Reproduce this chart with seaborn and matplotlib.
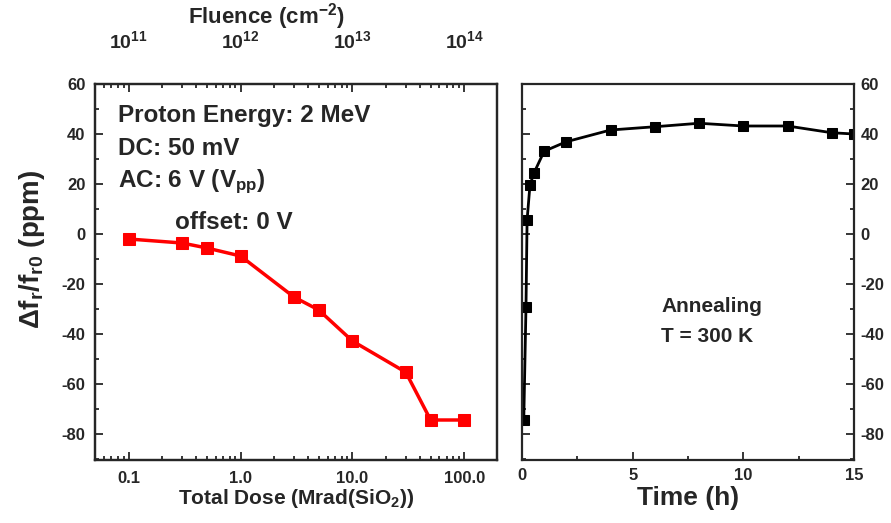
import numpy as np
import pandas as pd
import matplotlib
matplotlib.use("Agg")
import matplotlib.pyplot as plt
import seaborn as sns
from matplotlib.ticker import LogLocator, MultipleLocator, NullFormatter

# ---- data ----
dose = [0.1, 0.3, 0.5, 1.0, 3.0, 5.0, 10.0, 30.0, 50.0, 100.0]
dfr_dose = [-2.0, -3.6, -5.6, -8.8, -25.2, -30.4, -42.8, -55.3, -74.4, -74.4]

time_h = [0.08, 0.18, 0.23, 0.36, 0.54, 1.0, 2.0, 4.0, 6.0, 8.0, 10.0, 12.0, 14.0, 15.0]
dfr_time = [-74.4, -29.2, 5.6, 19.6, 24.4, 33.1, 36.9, 41.6, 42.9, 44.3, 43.2, 43.2, 40.5, 40.0]

dose_ticks = [0.1, 1.0, 10.0, 100.0]
dose_ticklabels = ["0.1", "1.0", "10.0", "100.0"]
fluence_ticklabels = ["10$^{11}$", "10$^{12}$", "10$^{13}$", "10$^{14}$"]
time_ticks = [0, 5, 10, 15]
y_ticks = [-80, -60, -40, -20, 0, 20, 40, 60]

sns.set_style("ticks")
plt.rcParams['font.family'] = ['Liberation Sans', 'DejaVu Sans']
plt.rcParams['font.weight'] = 'bold'
plt.rcParams['mathtext.fontset'] = 'custom'
for k in ['rm', 'it', 'bf', 'sf']:
    plt.rcParams['mathtext.' + k] = 'Liberation Sans:bold'
plt.rcParams['mathtext.default'] = 'rm'
plt.rcParams['axes.unicode_minus'] = False
plt.rcParams['axes.linewidth'] = 1.6

fig = plt.figure(figsize=(8.91, 5.23), dpi=100)
ax1 = fig.add_axes([95/891, 63/523, 402/891, 376/523])
ax2 = fig.add_axes([522/891, 63/523, 332/891, 376/523])

df1 = pd.DataFrame({"dose": dose, "dfr": dfr_dose})
df2 = pd.DataFrame({"t": time_h, "dfr": dfr_time})

sns.lineplot(data=df1, x="dose", y="dfr", ax=ax1, color="#ff0000", marker="s",
             markersize=8, markeredgecolor="#ff0000", linewidth=2.5, sort=False)
sns.lineplot(data=df2, x="t", y="dfr", ax=ax2, color="black", marker="s",
             markersize=7, markeredgecolor="black", linewidth=2, sort=False)

ylim = (-90.4, 60)
tick_kw = dict(direction='in', width=1.3)

# left panel
ax1.set_xscale('log')
ax1.set_xlim(0.05, 196)
ax1.set_ylim(*ylim)
ax1.set_xticks(dose_ticks)
ax1.set_xticklabels(dose_ticklabels)
ax1.xaxis.set_minor_locator(LogLocator(base=10, subs=np.arange(2, 10)))
ax1.xaxis.set_minor_formatter(NullFormatter())
ax1.set_yticks(y_ticks)
ax1.yaxis.set_minor_locator(MultipleLocator(10))
ax1.tick_params(which='major', length=6, labelsize=12, **tick_kw)
ax1.tick_params(which='minor', length=3, **tick_kw)
ax1.tick_params(axis='x', which='major', pad=8)
ax1.tick_params(axis='y', which='major', pad=7)
ax1.set_xlabel("Total Dose (Mrad(SiO$_2$))", fontsize=15, fontweight='bold', labelpad=1)
ax1.set_ylabel("$\\Delta$f$_r$/f$_{r0}$ (ppm)", fontsize=20, fontweight='bold')
ax1.yaxis.set_label_coords(-0.12, 0.56)

axt = ax1.twiny()
axt.set_xscale('log')
axt.set_xlim(ax1.get_xlim())
axt.set_xticks(dose_ticks)
axt.set_xticklabels(fluence_ticklabels)
axt.xaxis.set_minor_locator(LogLocator(base=10, subs=np.arange(2, 10)))
axt.xaxis.set_minor_formatter(NullFormatter())
axt.tick_params(which='major', length=6, labelsize=14, pad=23, **tick_kw)
axt.tick_params(which='minor', length=3, **tick_kw)
axt.set_xlabel("Fluence (cm$^{-2}$)", fontsize=16, fontweight='bold')
axt.xaxis.set_label_coords(0.425, 1.16)
for s in axt.spines.values():
    s.set_linewidth(1.6)

tx = dict(transform=ax1.transAxes, fontsize=17.5, fontweight='bold', va='baseline', ha='left')
ax1.text(0.057, 0.899, "Proton Energy: 2 MeV", **tx)
ax1.text(0.057, 0.811, "DC: 50 mV", **tx)
ax1.text(0.057, 0.726, "AC: 6 V (V$_{pp}$)", **tx)
ax1.text(0.199, 0.614, "offset: 0 V", **tx)

# right panel
ax2.set_xlim(0, 15)
ax2.set_ylim(*ylim)
ax2.set_xticks(time_ticks)
ax2.xaxis.set_minor_locator(MultipleLocator(2.5))
ax2.set_yticks(y_ticks)
ax2.yaxis.set_minor_locator(MultipleLocator(10))
ax2.yaxis.tick_right()
ax2.tick_params(which='both', left=True, right=True, **tick_kw)
ax2.tick_params(which='major', length=6, labelsize=12, labelleft=False, labelright=True)
ax2.tick_params(which='minor', length=3)
ax2.tick_params(axis='x', which='major', pad=6)
ax2.tick_params(axis='y', which='major', pad=4.5)
ax2.set_xlabel("Time (h)", fontsize=19, fontweight='bold', labelpad=2)
ax2.set_ylabel("")
ax2.text(0.419, 0.394, "Annealing", transform=ax2.transAxes, fontsize=15,
         fontweight='bold', ha='left', va='baseline')
ax2.text(0.419, 0.314, "T = 300 K", transform=ax2.transAxes, fontsize=15,
         fontweight='bold', ha='left', va='baseline')

for a in (ax1, ax2):
    for s in a.spines.values():
        s.set_visible(True)
        s.set_linewidth(1.6)

fig.savefig("out.png", dpi=100)
